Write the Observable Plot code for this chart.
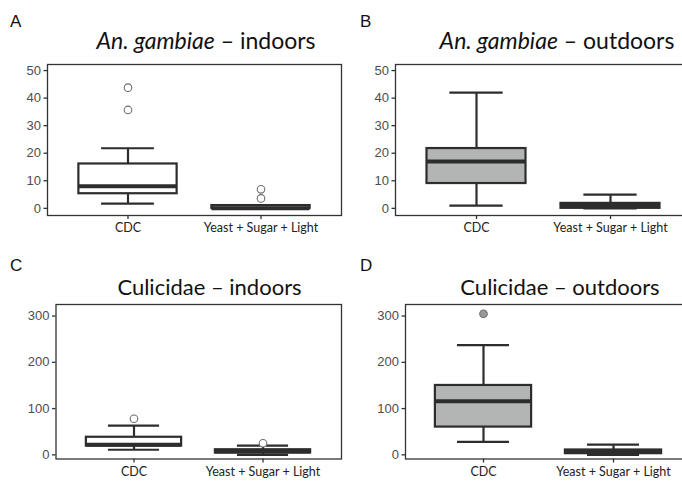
<!DOCTYPE html>
<html>
<head>
<meta charset="utf-8">
<script src="https://cdn.jsdelivr.net/npm/d3@7"></script>
<script src="https://cdn.jsdelivr.net/npm/@observablehq/plot@0.6"></script>
<style>
  html, body { margin: 0; padding: 0; background: #fff; }
  body { width: 682px; height: 483px; overflow: hidden; position: relative; }
  .letter { position: absolute; font-family: "Liberation Sans", Arial, sans-serif; font-size: 17px; line-height: 17px; color: #111; }
  .title { position: absolute; font-family: Lato, "Open Sans", sans-serif; font-size: 22px; line-height: 21px; color: #111; white-space: nowrap; transform: translateX(-50%); }
  .title.big { font-size: 23px; }
  .plot { position: absolute; }
  .plot svg { overflow: visible; max-width: none !important; display: block; }
  g[aria-label="y-axis tick label"] { font-family: "Liberation Sans", Arial, sans-serif; font-size: 13px; fill: #4d4d4d; }
  g[aria-label="x-axis tick label"] { font-family: Lato, "Open Sans", sans-serif; font-size: 12.5px; fill: #222; }
  g[aria-label="y-axis tick"], g[aria-label="x-axis tick"] { stroke: #333; stroke-width: 1.3; }
</style>
</head>
<body>
<script>
// ---- data ----
const categories = ["CDC", "Yeast + Sugar + Light"];

// A: An. gambiae – indoors
const aLower  = [1.7, 0];
const aQ1     = [5.3, 0];
const aMedian = [8, 0];
const aQ3     = [16.1, 1];
const aUpper  = [21.8, 1];
const aOutliers = [[35.7, 43.8], [3.6, 6.9]];

// B: An. gambiae – outdoors
const bLower  = [1, 0];
const bQ1     = [9, 0];
const bMedian = [17, 1];
const bQ3     = [21.7, 1.8];
const bUpper  = [42, 5];
const bOutliers = [[], []];

// C: Culicidae – indoors
const cLower  = [11, 0];
const cQ1     = [19, 4];
const cMedian = [22, 7];
const cQ3     = [38, 11];
const cUpper  = [63, 20];
const cOutliers = [[78], [25]];

// D: Culicidae – outdoors
const dLower  = [28, 0];
const dQ1     = [60, 2.5];
const dMedian = [116, 6];
const dQ3     = [150, 10.5];
const dUpper  = [237, 22];
const dOutliers = [[305], []];

const ticksGambiae = [0, 10, 20, 30, 40, 50];
const ticksCulicidae = [0, 100, 200, 300];

function rows(lower, q1, median, q3, upper) {
  return categories.map((c, i) => ({cat: c, lower: lower[i], q1: q1[i], median: median[i], q3: q3[i], upper: upper[i]}));
}
function outRows(outs) {
  const r = [];
  outs.forEach((vals, i) => vals.forEach(v => r.push({cat: categories[i], value: v})));
  return r;
}

function panel(cfg) {
  const {left, top, width, height, mt, mb, ml, mr, yDomain, yTicks, boxFill, outFill, stats, outliers} = cfg;
  const step = (width - ml - mr) / 2.2;
  const boxInset = step * 0.13;
  const capInset = step * 0.3;
  const stroke = "#2d2d2d";
  const chart = Plot.plot({
    width, height,
    marginTop: mt, marginBottom: mb, marginLeft: ml, marginRight: mr,
    style: {background: "transparent", overflow: "visible", maxWidth: "none"},
    x: {domain: categories, paddingInner: 0, paddingOuter: 0.1, label: null},
    y: {domain: yDomain, label: null},
    marks: [
      Plot.ruleX(stats, {x: "cat", y1: "lower", y2: "upper", stroke, strokeWidth: 2.2}),
      Plot.tickY(stats, {x: "cat", y: "upper", stroke, strokeWidth: 2.2, insetLeft: capInset, insetRight: capInset}),
      Plot.tickY(stats, {x: "cat", y: "lower", stroke, strokeWidth: 2.2, insetLeft: capInset, insetRight: capInset}),
      Plot.barY(stats, {x: "cat", y1: "q1", y2: "q3", fill: boxFill, stroke, strokeWidth: 2.2, insetLeft: boxInset, insetRight: boxInset}),
      Plot.tickY(stats, {x: "cat", y: "median", stroke, strokeWidth: 4, insetLeft: boxInset, insetRight: boxInset}),
      Plot.dot(outliers, {x: "cat", y: "value", r: 3.8, stroke: "#6e6e6e", strokeWidth: 1.1, fill: outFill}),
      Plot.frame({stroke: "#333", strokeWidth: 1.3}),
      Plot.axisY({ticks: yTicks, tickSize: 3.5, tickPadding: 3, label: null}),
      Plot.axisX({tickSize: 4, tickPadding: 4, label: null})
    ]
  });
  const div = document.createElement("div");
  div.className = "plot";
  div.style.left = left + "px";
  div.style.top = top + "px";
  div.style.width = width + "px";
  div.style.height = height + "px";
  div.appendChild(chart);
  document.body.appendChild(div);
}

function label(text, x, y) {
  const d = document.createElement("div");
  d.className = "letter";
  d.textContent = text;
  d.style.left = x + "px"; d.style.top = y + "px";
  document.body.appendChild(d);
}
function title(html, cx, y, big) {
  const d = document.createElement("div");
  d.className = big ? "title big" : "title";
  d.innerHTML = html;
  d.style.left = cx + "px"; d.style.top = y + "px";
  document.body.appendChild(d);
}

panel({left: 0, top: 54, width: 342, height: 186, mt: 10, mb: 25, ml: 47, mr: 1,
  yDomain: [-2.6, 52.2], yTicks: ticksGambiae, boxFill: "#ffffff", outFill: "#ffffff",
  stats: rows(aLower, aQ1, aMedian, aQ3, aUpper), outliers: outRows(aOutliers)});
panel({left: 341, top: 54, width: 351, height: 186, mt: 10, mb: 25, ml: 54, mr: 1,
  yDomain: [-2.6, 52.2], yTicks: ticksGambiae, boxFill: "#b3b5b5", outFill: "#9a9a9a",
  stats: rows(bLower, bQ1, bMedian, bQ3, bUpper), outliers: outRows(bOutliers)});
panel({left: 0, top: 294, width: 342, height: 189, mt: 10, mb: 24.5, ml: 55.5, mr: 1,
  yDomain: [-9, 325], yTicks: ticksCulicidae, boxFill: "#ffffff", outFill: "#ffffff",
  stats: rows(cLower, cQ1, cMedian, cQ3, cUpper), outliers: outRows(cOutliers)});
panel({left: 341, top: 294, width: 351, height: 189, mt: 10, mb: 24.5, ml: 64, mr: 1,
  yDomain: [-9, 325], yTicks: ticksCulicidae, boxFill: "#b3b5b5", outFill: "#9a9a9a",
  stats: rows(dLower, dQ1, dMedian, dQ3, dUpper), outliers: outRows(dOutliers)});

label("A", 10, 12.6);
label("B", 360, 12.6);
label("C", 10, 257);
label("D", 360, 257);
title("<i>An. gambiae</i> – indoors", 206, 30.4, true);
title("<i>An. gambiae</i> – outdoors", 557, 30.4, true);
title("Culicidae – indoors", 209.5, 276.4);
title("Culicidae – outdoors", 560, 276.4);
</script>
</body>
</html>
